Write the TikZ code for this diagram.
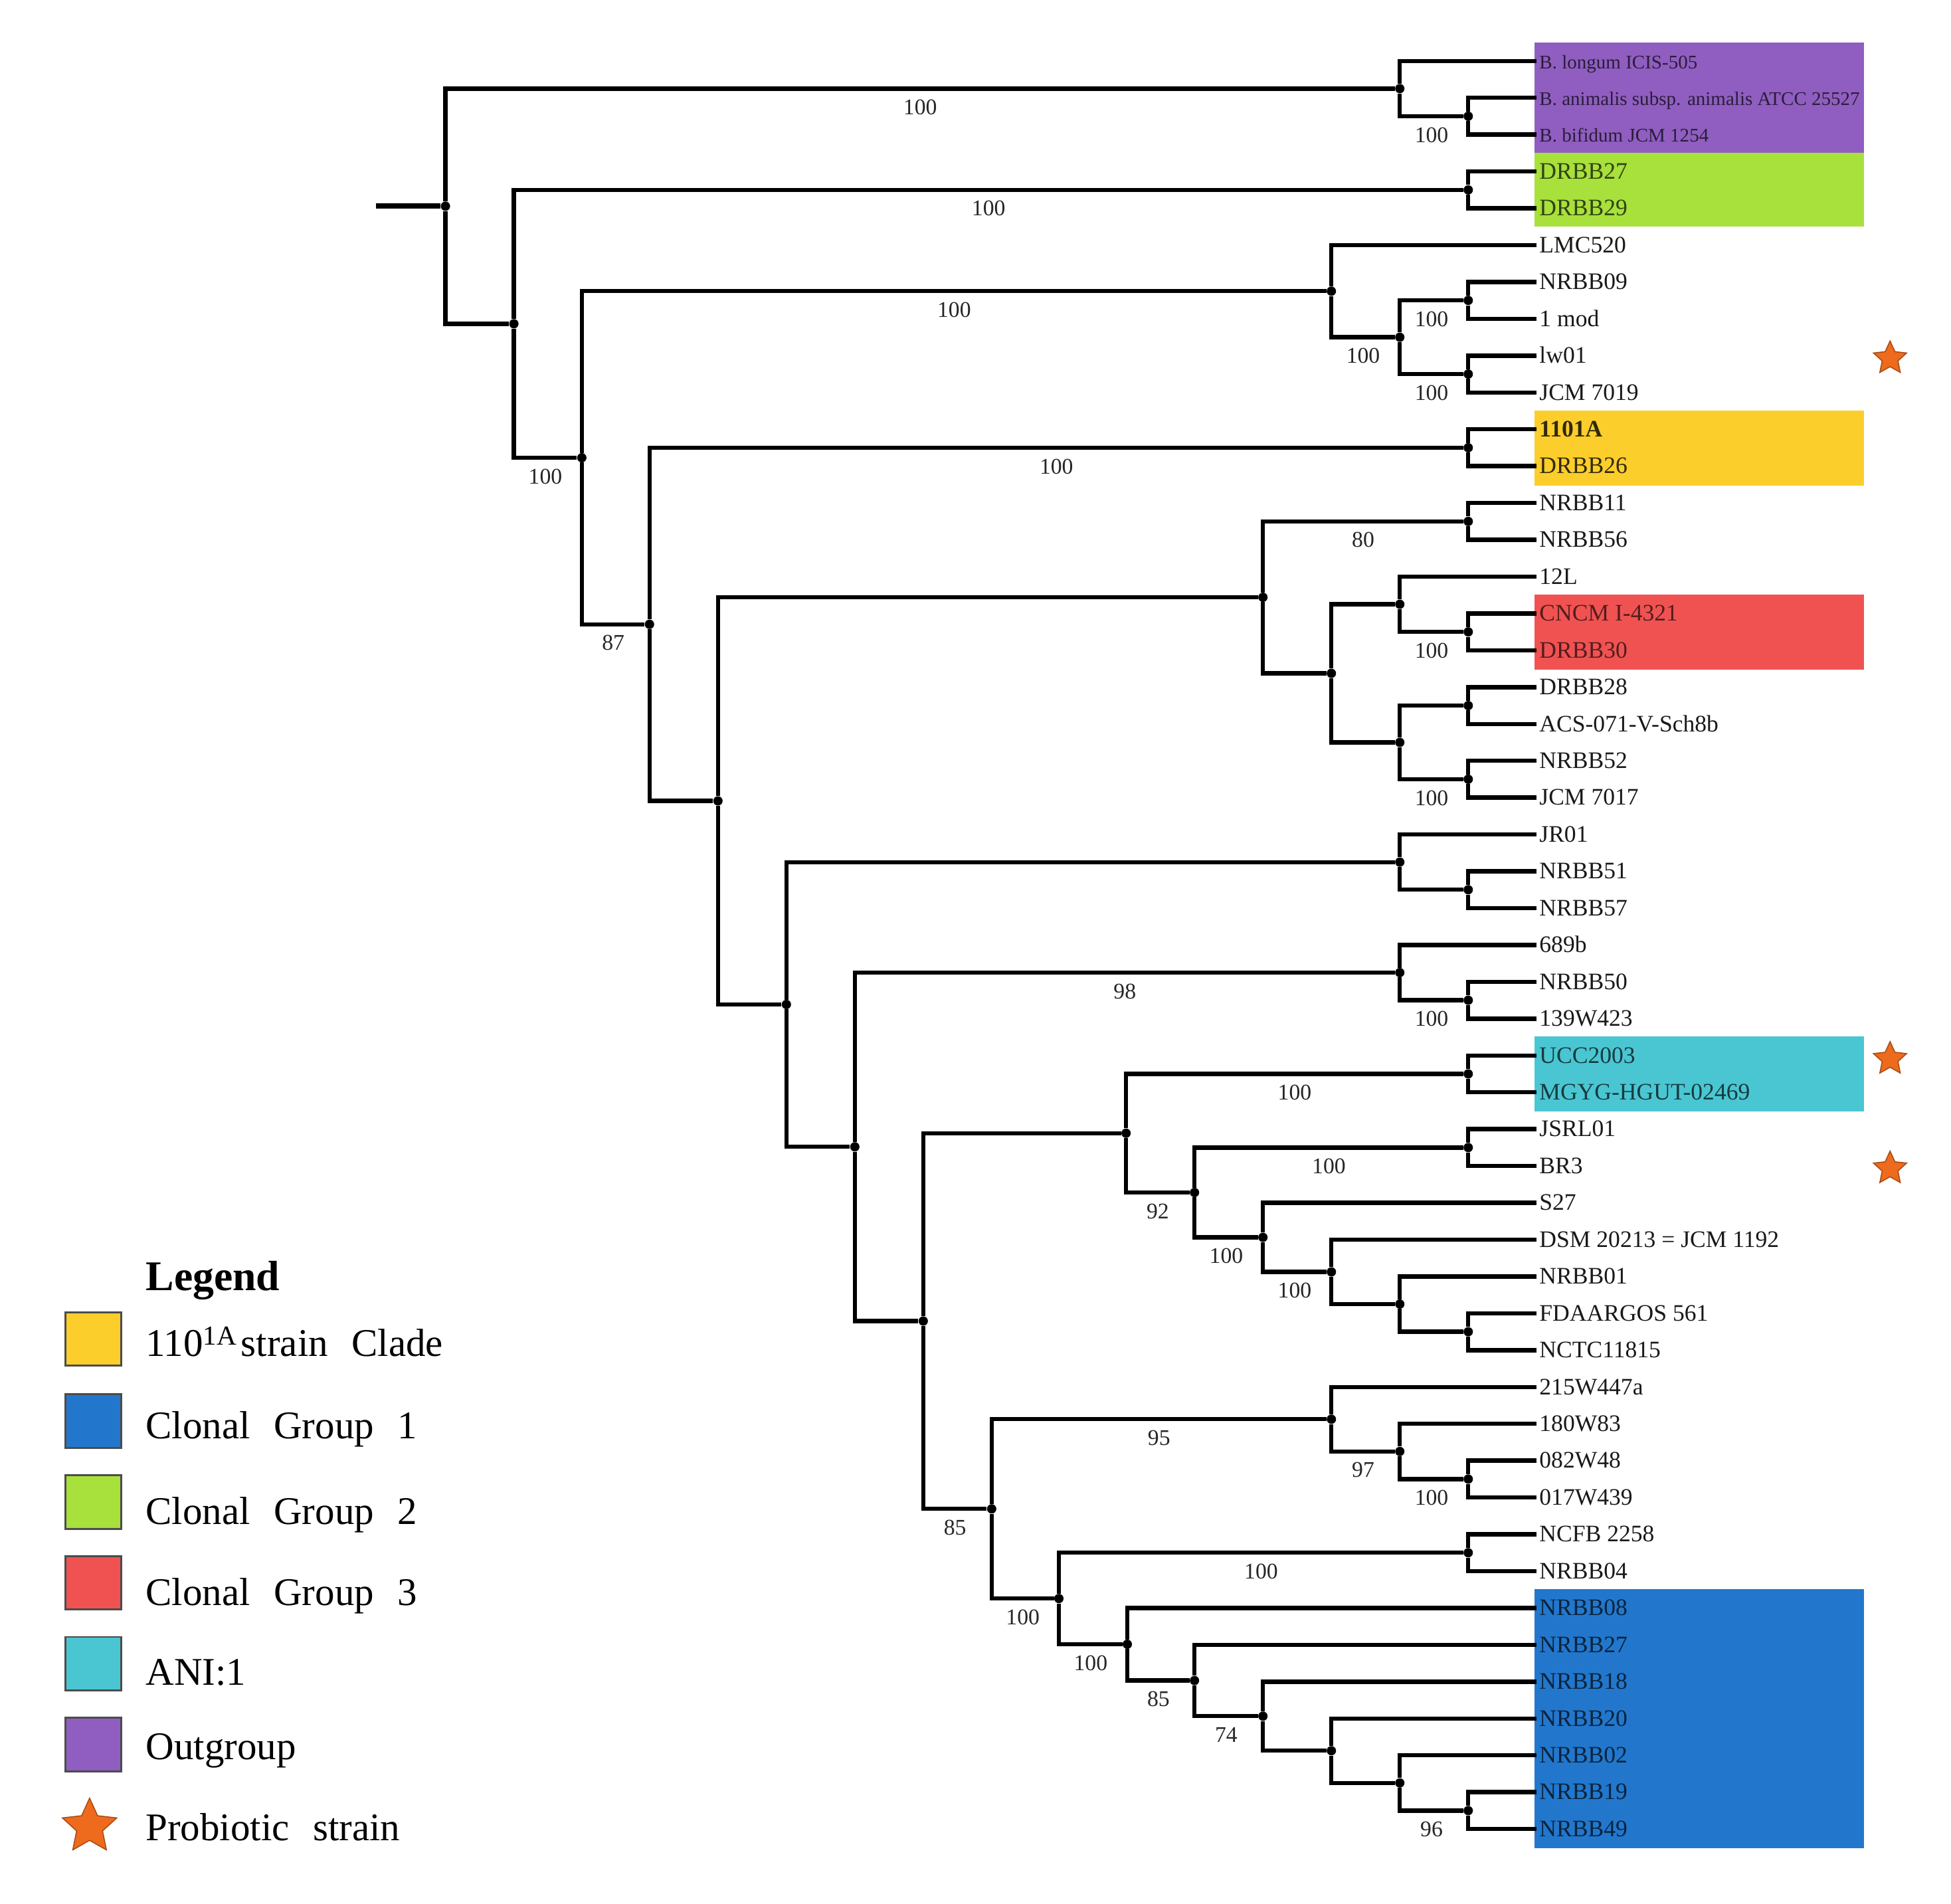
\documentclass[tikz,border=0pt]{standalone}
\usepackage{fontspec}
\setmainfont{Liberation Serif}
\usetikzlibrary{shapes.geometric}
\definecolor{outgrp}{HTML}{8F5EC0}
\definecolor{clonaltwo}{HTML}{A8E03C}
\definecolor{strainclade}{HTML}{FBCE2C}
\definecolor{clonalthree}{HTML}{F05252}
\definecolor{anione}{HTML}{4AC6D2}
\definecolor{clonalone}{HTML}{2277CC}
\definecolor{probio}{HTML}{EE6A1C}
\begin{document}
\begin{tikzpicture}[x=1pt,y=-1pt,
		br/.style={line width=3.4pt},
		nd/.style={circle,fill=black,inner sep=0pt,minimum size=7.5pt},
		lf/.style={anchor=west,inner sep=2pt,text=black!90,font=\fontsize{19}{22}\selectfont,text height=15pt,text depth=3pt},
		oglf/.style={lf,font=\fontsize{15.5}{18}\selectfont},
		bs/.style={pos=0.75,inner sep=0pt,yshift=-15pt,text=black!85,font=\fontsize{18}{20}\selectfont},
		sw/.style={draw=black!70,line width=1.5pt,minimum width=45pt,minimum height=43pt,inner sep=0pt},
		lg/.style={anchor=base west,inner sep=0pt,font=\fontsize{31.5}{36}\selectfont,execute at begin node={\spaceskip=0.6em\relax}},
		starmark/.style={star,star points=5,star point ratio=2.1,fill=probio,draw=probio!70!black,line width=0.8pt,inner sep=0pt,minimum size=28pt}]
	\useasboundingbox (0,0) rectangle (1568,1530);
	\fill[outgrp] (1233,34) rectangle (1498,123);
	\fill[clonaltwo] (1233,123) rectangle (1498,182);
	\fill[strainclade] (1233,330) rectangle (1498,390);
	\fill[clonalthree] (1233,478) rectangle (1498,538);
	\fill[anione] (1233,833) rectangle (1498,893);
	\fill[clonalone] (1233,1277) rectangle (1498,1485);
	\node[oglf,text=outgrp!30!black] (l1) at (1235,49) {B. longum ICIS-505};
	\node[oglf,text=outgrp!30!black] (l2) at (1235,78.6) {B. animalis subsp. animalis ATCC 25527};
	\node[oglf,text=outgrp!30!black] (l3) at (1235,108.2) {B. bifidum JCM 1254};
	\node[lf,text=clonaltwo!30!black] (l4) at (1235,137.8) {DRBB27};
	\node[lf,text=clonaltwo!30!black] (l5) at (1235,167.4) {DRBB29};
	\node[lf] (l6) at (1235,197) {LMC520};
	\node[lf] (l7) at (1235,226.6) {NRBB09};
	\node[lf] (l8) at (1235,256.2) {1 mod};
	\node[lf] (l9) at (1235,285.8) {lw01};
	\node[lf] (l10) at (1235,315.4) {JCM 7019};
	\node[lf,text=strainclade!20!black,font=\fontsize{19}{22}\selectfont\bfseries] (l11) at (1235,345) {1101A};
	\node[lf,text=strainclade!20!black] (l12) at (1235,374.6) {DRBB26};
	\node[lf] (l13) at (1235,404.2) {NRBB11};
	\node[lf] (l14) at (1235,433.8) {NRBB56};
	\node[lf] (l15) at (1235,463.4) {12L};
	\node[lf,text=clonalthree!35!black] (l16) at (1235,493) {CNCM I-4321};
	\node[lf,text=clonalthree!35!black] (l17) at (1235,522.6) {DRBB30};
	\node[lf] (l18) at (1235,552.2) {DRBB28};
	\node[lf] (l19) at (1235,581.8) {ACS-071-V-Sch8b};
	\node[lf] (l20) at (1235,611.4) {NRBB52};
	\node[lf] (l21) at (1235,641) {JCM 7017};
	\node[lf] (l22) at (1235,670.6) {JR01};
	\node[lf] (l23) at (1235,700.2) {NRBB51};
	\node[lf] (l24) at (1235,729.8) {NRBB57};
	\node[lf] (l25) at (1235,759.4) {689b};
	\node[lf] (l26) at (1235,789) {NRBB50};
	\node[lf] (l27) at (1235,818.6) {139W423};
	\node[lf,text=anione!30!black] (l28) at (1235,848.2) {UCC2003};
	\node[lf,text=anione!30!black] (l29) at (1235,877.8) {MGYG-HGUT-02469};
	\node[lf] (l30) at (1235,907.4) {JSRL01};
	\node[lf] (l31) at (1235,937) {BR3};
	\node[lf] (l32) at (1235,966.6) {S27};
	\node[lf] (l33) at (1235,996.2) {DSM 20213 = JCM 1192};
	\node[lf] (l34) at (1235,1025.8) {NRBB01};
	\node[lf] (l35) at (1235,1055.4) {FDAARGOS 561};
	\node[lf] (l36) at (1235,1085) {NCTC11815};
	\node[lf] (l37) at (1235,1114.6) {215W447a};
	\node[lf] (l38) at (1235,1144.2) {180W83};
	\node[lf] (l39) at (1235,1173.8) {082W48};
	\node[lf] (l40) at (1235,1203.4) {017W439};
	\node[lf] (l41) at (1235,1233) {NCFB 2258};
	\node[lf] (l42) at (1235,1262.6) {NRBB04};
	\node[lf,text=clonalone!30!black] (l43) at (1235,1292.2) {NRBB08};
	\node[lf,text=clonalone!30!black] (l44) at (1235,1321.8) {NRBB27};
	\node[lf,text=clonalone!30!black] (l45) at (1235,1351.4) {NRBB18};
	\node[lf,text=clonalone!30!black] (l46) at (1235,1381) {NRBB20};
	\node[lf,text=clonalone!30!black] (l47) at (1235,1410.6) {NRBB02};
	\node[lf,text=clonalone!30!black] (l48) at (1235,1440.2) {NRBB19};
	\node[lf,text=clonalone!30!black] (l49) at (1235,1469.8) {NRBB49};
	\coordinate (stem) at (302,165.7);
	\node[nd] (root) at (358,165.7) {};
	\node[nd] (og) at (1125,71.2) {};
	\node[nd] (og2) at (1180,93.4) {};
	\node[nd] (n413) at (413,260.2) {};
	\node[nd] (cg2) at (1180,152.6) {};
	\node[nd] (n467) at (467.6,367.85) {};
	\node[nd] (lmc) at (1070,234) {};
	\node[nd] (a3) at (1125,271) {};
	\node[nd] (a1) at (1180,241.4) {};
	\node[nd] (a2) at (1180,300.6) {};
	\node[nd] (y2) at (522,501.7) {};
	\node[nd] (yel) at (1180,359.8) {};
	\node[nd] (b9) at (577,643.6) {};
	\node[nd] (b8) at (1015,480) {};
	\node[nd] (b1) at (1180,419) {};
	\node[nd] (b7) at (1070,541.1) {};
	\node[nd] (b3) at (1125,485.6) {};
	\node[nd] (b2) at (1180,507.8) {};
	\node[nd] (b6) at (1125,596.6) {};
	\node[nd] (b4) at (1180,567) {};
	\node[nd] (b5) at (1180,626.2) {};
	\node[nd] (c3) at (632,807.2) {};
	\node[nd] (c2) at (1125,692.8) {};
	\node[nd] (c1) at (1180,715) {};
	\node[nd] (d3) at (687,921.6) {};
	\node[nd] (d2) at (1125,781.6) {};
	\node[nd] (d1) at (1180,803.8) {};
	\node[nd] (e9) at (742,1061.6) {};
	\node[nd] (e8) at (905,910.65) {};
	\node[nd] (e1) at (1180,863) {};
	\node[nd] (e7) at (960,958.3) {};
	\node[nd] (e2) at (1180,922.2) {};
	\node[nd] (e6) at (1015,994.35) {};
	\node[nd] (e5) at (1070,1022.1) {};
	\node[nd] (e4) at (1125,1048) {};
	\node[nd] (e3) at (1180,1070.2) {};
	\node[nd] (f4) at (797,1212.55) {};
	\node[nd] (f3) at (1070,1140.5) {};
	\node[nd] (f2) at (1125,1166.4) {};
	\node[nd] (f1) at (1180,1188.6) {};
	\node[nd] (g2) at (851,1284.6) {};
	\node[nd] (g1) at (1180,1247.8) {};
	\node[nd] (h6) at (906,1321.35) {};
	\node[nd] (h5) at (960,1350.5) {};
	\node[nd] (h4) at (1015,1379.15) {};
	\node[nd] (h3) at (1070,1406.9) {};
	\node[nd] (h2) at (1125,1432.8) {};
	\node[nd] (h1) at (1180,1455) {};
	\draw[br,line width=4.2pt] (stem) -- (root);
	\draw[br] (root) |- node[bs]{100} (og) (root) |- (n413);
	\draw[br] (og) |- (l1) (og) |- node[bs]{100} (og2);
	\draw[br] (og2) |- (l2) (og2) |- (l3);
	\draw[br] (n413) |- node[bs]{100} (cg2) (n413) |- node[bs]{100} (n467);
	\draw[br] (cg2) |- (l4) (cg2) |- (l5);
	\draw[br] (n467) |- node[bs]{100} (lmc) (n467) |- node[bs]{87} (y2);
	\draw[br] (lmc) |- (l6) (lmc) |- node[bs]{100} (a3);
	\draw[br] (a3) |- node[bs]{100} (a1) (a3) |- node[bs]{100} (a2);
	\draw[br] (a1) |- (l7) (a1) |- (l8);
	\draw[br] (a2) |- (l9) (a2) |- (l10);
	\draw[br] (y2) |- node[bs]{100} (yel) (y2) |- (b9);
	\draw[br] (yel) |- (l11) (yel) |- (l12);
	\draw[br] (b9) |- (b8) (b9) |- (c3);
	\draw[br] (b8) |- node[bs]{80} (b1) (b8) |- (b7);
	\draw[br] (b1) |- (l13) (b1) |- (l14);
	\draw[br] (b7) |- (b3) (b7) |- (b6);
	\draw[br] (b3) |- (l15) (b3) |- node[bs]{100} (b2);
	\draw[br] (b2) |- (l16) (b2) |- (l17);
	\draw[br] (b6) |- (b4) (b6) |- node[bs]{100} (b5);
	\draw[br] (b4) |- (l18) (b4) |- (l19);
	\draw[br] (b5) |- (l20) (b5) |- (l21);
	\draw[br] (c3) |- (c2) (c3) |- (d3);
	\draw[br] (c2) |- (l22) (c2) |- (c1);
	\draw[br] (c1) |- (l23) (c1) |- (l24);
	\draw[br] (d3) |- node[bs]{98} (d2) (d3) |- (e9);
	\draw[br] (d2) |- (l25) (d2) |- node[bs]{100} (d1);
	\draw[br] (d1) |- (l26) (d1) |- (l27);
	\draw[br] (e9) |- (e8) (e9) |- node[bs]{85} (f4);
	\draw[br] (e8) |- node[bs]{100} (e1) (e8) |- node[bs]{92} (e7);
	\draw[br] (e1) |- (l28) (e1) |- (l29);
	\draw[br] (e7) |- node[bs]{100} (e2) (e7) |- node[bs]{100} (e6);
	\draw[br] (e2) |- (l30) (e2) |- (l31);
	\draw[br] (e6) |- (l32) (e6) |- node[bs]{100} (e5);
	\draw[br] (e5) |- (l33) (e5) |- (e4);
	\draw[br] (e4) |- (l34) (e4) |- (e3);
	\draw[br] (e3) |- (l35) (e3) |- (l36);
	\draw[br] (f4) |- node[bs]{95} (f3) (f4) |- node[bs]{100} (g2);
	\draw[br] (f3) |- (l37) (f3) |- node[bs]{97} (f2);
	\draw[br] (f2) |- (l38) (f2) |- node[bs]{100} (f1);
	\draw[br] (f1) |- (l39) (f1) |- (l40);
	\draw[br] (g2) |- node[bs]{100} (g1) (g2) |- node[bs]{100} (h6);
	\draw[br] (g1) |- (l41) (g1) |- (l42);
	\draw[br] (h6) |- (l43) (h6) |- node[bs]{85} (h5);
	\draw[br] (h5) |- (l44) (h5) |- node[bs]{74} (h4);
	\draw[br] (h4) |- (l45) (h4) |- (h3);
	\draw[br] (h3) |- (l46) (h3) |- (h2);
	\draw[br] (h2) |- (l47) (h2) |- node[bs]{96} (h1);
	\draw[br] (h1) |- (l48) (h1) |- (l49);
	\node[starmark] (s1) at (1519,288) {};
	\node[starmark] (s2) at (1519,851) {};
	\node[starmark] (s3) at (1519,939) {};
	\node[lg,font=\fontsize{34}{40}\selectfont\bfseries] (kt) at (117,1037) {Legend};
	\node[sw,fill=strainclade] (k1) at (75,1076) {};
	\node[sw,fill=clonalone] (k2) at (75,1142) {};
	\node[sw,fill=clonaltwo] (k3) at (75,1207) {};
	\node[sw,fill=clonalthree] (k4) at (75,1272) {};
	\node[sw,fill=anione] (k5) at (75,1337) {};
	\node[sw,fill=outgrp] (k6) at (75,1402) {};
	\node[starmark,minimum size=46pt] (k7) at (72,1468) {};
	\node[lg] (t1) at (117,1090) {110\textsuperscript{1A}\kern3pt strain Clade};
	\node[lg] (t2) at (117,1156) {Clonal Group 1};
	\node[lg] (t3) at (117,1225) {Clonal Group 2};
	\node[lg] (t4) at (117,1290) {Clonal Group 3};
	\node[lg] (t5) at (117,1354) {ANI:1};
	\node[lg] (t6) at (117,1414) {Outgroup};
	\node[lg] (t7) at (117,1479) {Probiotic strain};
\end{tikzpicture}
\end{document}
